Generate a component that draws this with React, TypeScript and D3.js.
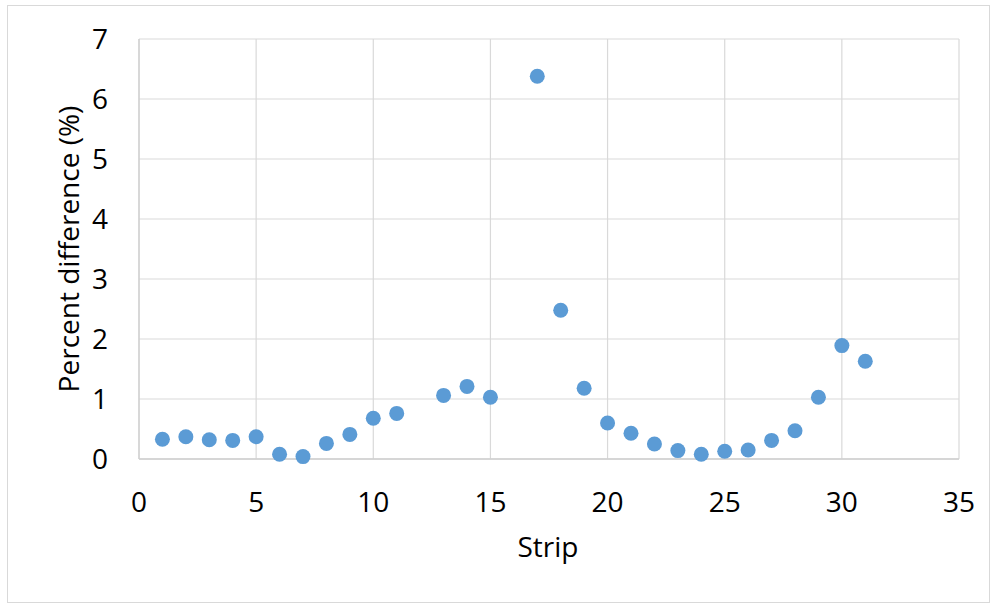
import React from "react";
import * as d3 from "d3";

const strips = [1, 2, 3, 4, 5, 6, 7, 8, 9, 10, 11, 13, 14, 15, 17, 18, 19, 20, 21, 22, 23, 24, 25, 26, 27, 28, 29, 30, 31];
const percentDiff = [0.33, 0.37, 0.32, 0.31, 0.37, 0.08, 0.04, 0.26, 0.41, 0.68, 0.76, 1.06, 1.21, 1.03, 6.38, 2.48, 1.18, 0.6, 0.43, 0.25, 0.14, 0.08, 0.13, 0.15, 0.31, 0.47, 1.03, 1.89, 1.63];
const xTicks = [0, 5, 10, 15, 20, 25, 30, 35];
const yTicks = [0, 1, 2, 3, 4, 5, 6, 7];

const W = 997;
const H = 605;
const FONT = "'Open Sans', 'Noto Sans', sans-serif";

export default function App() {
  const left = 139, right = 959, top = 39, bottom = 459;
  const x = d3.scaleLinear().domain([0, 35]).range([left, right]);
  const y = d3.scaleLinear().domain([0, 7]).range([bottom, top]);
  const data = strips.map((s, i) => ({ s, v: percentDiff[i] }));

  return (
    <svg width={W} height={H} style={{ position: "absolute", left: 0, top: 0, background: "#fff" }}>
      <rect x={7.5} y={5.5} width={982} height={597} fill="#fff" stroke="#d9d9d9" strokeWidth={1} />
      {xTicks.map((t) => (
        <line key={"gx" + t} x1={x(t)} x2={x(t)} y1={top} y2={bottom} stroke="#d9d9d9" strokeWidth={1.2} />
      ))}
      {yTicks.map((t) => (
        <line key={"gy" + t} x1={left} x2={right} y1={y(t)} y2={y(t)} stroke="#d9d9d9" strokeWidth={1.2} />
      ))}
      <line x1={left} x2={left} y1={top} y2={bottom} stroke="#cfcfcf" strokeWidth={1.3} />
      <line x1={left} x2={right} y1={bottom} y2={bottom} stroke="#cfcfcf" strokeWidth={1.3} />
      {yTicks.map((t) => (
        <text key={"ly" + t} x={108} y={y(t)} dy="0.36em" textAnchor="end" fontFamily={FONT} fontSize={28} fill="#000">
          {t}
        </text>
      ))}
      {xTicks.map((t) => (
        <text key={"lx" + t} x={x(t)} y={512} textAnchor="middle" fontFamily={FONT} fontSize={28} fill="#000">
          {t}
        </text>
      ))}
      <text x={548} y={557} textAnchor="middle" fontFamily={FONT} fontSize={28} fill="#000">
        Strip
      </text>
      <text
        transform={`translate(79, ${(top + bottom) / 2}) rotate(-90)`}
        textAnchor="middle"
        fontFamily={FONT}
        fontSize={28}
        fill="#000"
      >
        Percent difference (%)
      </text>
      {data.map((d) => (
        <circle key={"p" + d.s} cx={x(d.s)} cy={y(d.v)} r={7.5} fill="#5b9bd5" />
      ))}
    </svg>
  );
}
